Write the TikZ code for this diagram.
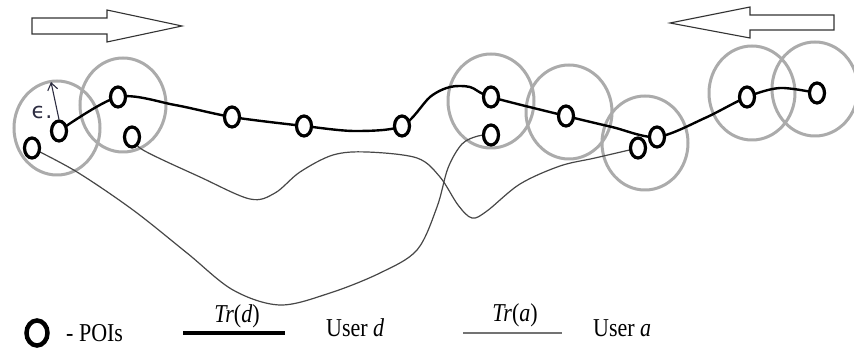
\documentclass[tikz,border=0pt]{standalone}
\usepackage{graphicx}
\usepackage{fontspec}
\setmainfont{Liberation Serif}
\newfontfamily\epsfont{DejaVu Sans}
\newcommand{\talltxt}[1]{\scalebox{1}[1.17]{#1}}
\usetikzlibrary{shapes.geometric,arrows.meta,backgrounds}
\definecolor{epscol}{RGB}{45,45,65}
\begin{document}
\begin{tikzpicture}[x=1pt,y=-1pt,
  poi/.style={draw=black,ellipse,fill=white,minimum width=15pt,minimum height=20pt,inner sep=0pt,line width=3.2pt},
  zone/.style={draw=black!33,line width=3pt},
  trd/.style={draw=black,line width=2.4pt,line cap=round},
  tra/.style={draw=black!72,line width=1.2pt},
  hollow/.style={draw=black!80,line width=1.1pt,fill=white,line join=miter},
  lbl/.style={font=\fontsize{22}{24}\selectfont,inner sep=0pt}
]
\useasboundingbox (0,0) rectangle (854,352);

% direction arrows
\draw[hollow] (32,18) -- (107,18) -- (107,10) -- (182,26) -- (107,42) -- (107,34) -- (32,34) -- cycle;
\draw[hollow] (834,15) -- (750,15) -- (750,7) -- (670,23) -- (750,38) -- (750,30) -- (834,30) -- cycle;

% POIs of user d
\node[poi] (d1) at (59,131) {};
\node[poi] (d2) at (118,97) {};
\node[poi] (d3) at (232,117) {};
\node[poi] (d4) at (304,126) {};
\node[poi] (d5) at (402,126) {};
\node[poi] (d6) at (491,97) {};
\node[poi] (d7) at (566,116) {};
\node[poi] (d8) at (657,137) {};
\node[poi] (d9) at (747,97) {};
\node[poi] (d10) at (817,93) {};
% POIs of user a
\node[poi] (a1) at (32,148) {};
\node[poi] (a2) at (132,137) {};
\node[poi] (a3) at (491,135) {};
\node[poi] (a4) at (638,148) {};

% epsilon radius
\coordinate (epstip) at (51,82);
\draw[epscol,line width=1.1pt,-{Straight Barb[length=7pt,width=10pt]}] (d1.north) -- (epstip);
\node[font=\epsfont\fontsize{22}{22}\selectfont,text=epscol,inner sep=0pt] (eps) at (42,112) {ϵ.};

\begin{pgfonlayer}{background}
  % epsilon zones
  \draw[zone] (57,128) ellipse [x radius=43pt, y radius=47pt];
  \draw[zone] (123,105) ellipse [x radius=43pt, y radius=47pt];
  \draw[zone] (491,101) ellipse [x radius=43pt, y radius=47pt];
  \draw[zone] (569,112) ellipse [x radius=43pt, y radius=47pt];
  \draw[zone] (645,143) ellipse [x radius=43pt, y radius=47pt];
  \draw[zone] (752,93) ellipse [x radius=43pt, y radius=47pt];
  \draw[zone] (815,89) ellipse [x radius=43pt, y radius=47pt];
  % trajectory of user d
  \draw[trd] plot[smooth,tension=0.5] coordinates {(d1) (d2) (175,105) (d3) (d4) (355,131) (d5) (430,97) (450,87) (470,87) (d6) (d7) (612,127) (d8) (705,118) (d9) (780,88) (d10)};
  % trajectory of user a
  \draw[tra] plot[smooth,tension=0.55] coordinates {(a1) (77,172) (133,210) (187,253) (233,290) (280,305) (330,293) (380,273) (417,250) (437,207) (448,168) (462,144) (478,136) (a3)};
  \draw[tra] plot[smooth,tension=0.55] coordinates {(a2) (143,150) (200,177) (250,199) (275,193) (300,172) (333,155) (367,152) (417,158) (440,177) (458,205) (472,218) (487,211) (520,184) (560,166) (595,158) (a4)};
\end{pgfonlayer}

% legend
\node[poi,minimum width=21pt,minimum height=25pt,line width=4.5pt] (legpoi) at (37,333) {};
\node[lbl,anchor=base west] (legpoit) at (66,342) {\talltxt{- POIs}};
\coordinate (tdA) at (183,333);
\coordinate (tdB) at (285,333);
\draw[black,line width=4pt] (tdA) -- (tdB);
\node[lbl,anchor=base] (trdtxt) at (237,323) {\talltxt{\textit{Tr}(\textit{d})}};
\node[lbl,anchor=base west] (userd) at (326,337) {\talltxt{User \textit{d}}};
\coordinate (taA) at (463,333);
\coordinate (taB) at (562,333);
\draw[black!55,line width=2.2pt] (taA) -- (taB);
\node[lbl,anchor=base] (tratxt) at (515,322) {\talltxt{\textit{Tr}(\textit{a})}};
\node[lbl,anchor=base west] (usera) at (593,337) {\talltxt{User \textit{a}}};
\end{tikzpicture}
\end{document}
